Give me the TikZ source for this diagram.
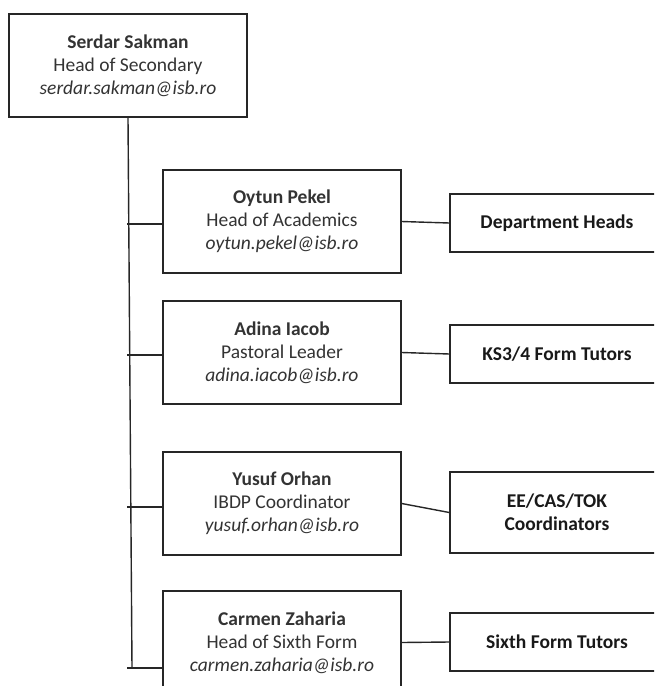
\documentclass[tikz,border=0pt]{standalone}
\usepackage{fontspec}
\setmainfont{Carlito}
\begin{document}
\begin{tikzpicture}
[x=1pt,y=-1pt,every node/.style={draw=black!85,line width=1.4pt,align=center,
 font=\fontsize{19.5}{23}\selectfont,text=black!80},
 staff/.style={minimum width=238pt,minimum height=103pt},
 team/.style={minimum width=214pt,minimum height=58pt,
 font=\fontsize{19.5}{23}\selectfont\bfseries,text=black!90}]
\useasboundingbox (0,0) rectangle (654,686);
\clip (0,0) rectangle (654,686);
% people
\node[staff] (sakman) at (128,65.5) {\textbf{Serdar Sakman}\\Head of Secondary\\\textit{serdar.sakman@isb.ro}};
\node[staff] (pekel) at (282,221.5) {\textbf{Oytun Pekel}\\Head of Academics\\\textit{oytun.pekel@isb.ro}};
\node[staff] (iacob) at (282,352.5) {\textbf{Adina Iacob}\\Pastoral Leader\\\textit{adina.iacob@isb.ro}};
\node[staff] (orhan) at (282,503.5) {\textbf{Yusuf Orhan}\\IBDP Coordinator\\\textit{yusuf.orhan@isb.ro}};
\node[staff] (zaharia) at (282,642.5) {\textbf{Carmen Zaharia}\\Head of Sixth Form\\\textit{carmen.zaharia@isb.ro}};
% teams
\node[team] (depts) at (557,223) {Department Heads};
\node[team] (tutors) at (557,354) {KS3/4 Form Tutors};
\node[team,minimum height=81pt] (coords) at (557,512.5) {EE/CAS/TOK\\Coordinators};
\node[team] (sixth) at (557,642) {Sixth Form Tutors};
% trunk
\coordinate (t1) at (127,224);
\coordinate (t2) at (127,355);
\coordinate (t3) at (127,507);
\coordinate (t4) at (127,668);
\coordinate (bottom) at (132,668);
\draw[black!85,line width=1.4pt] (sakman.south) -- (bottom);
\foreach \from/\to in {t1/pekel,t2/iacob,t3/orhan,t4/zaharia}
\draw[black!85,line width=1.4pt] (\from) -- (\to.west |- \from);
\foreach \from/\to in {pekel/depts,iacob/tutors,orhan/coords,zaharia/sixth}
\draw[black!85,line width=1.4pt] (\from.east) -- (\to.west);
\end{tikzpicture}
\end{document}
